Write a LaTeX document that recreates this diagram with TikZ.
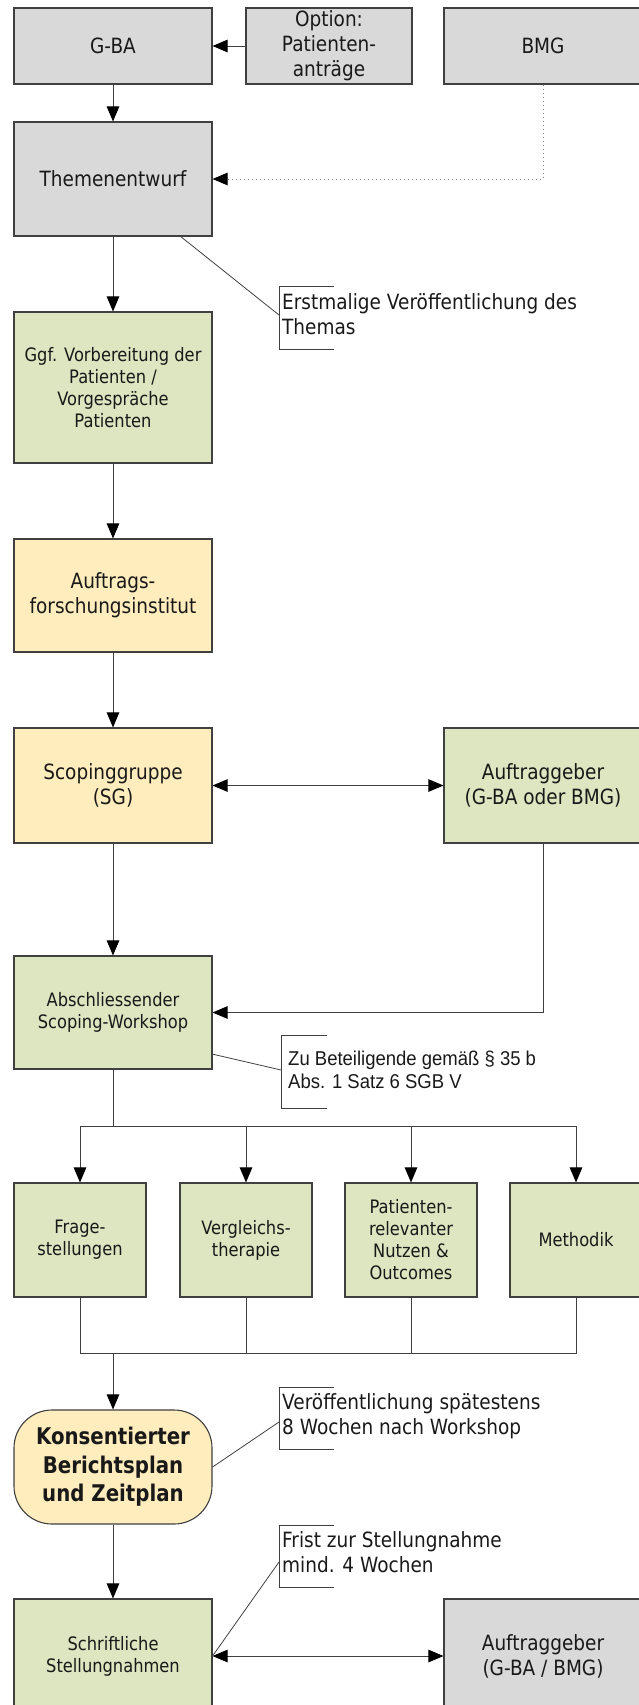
\documentclass[tikz,border=0pt]{standalone}
\usepackage{fontspec}
\setmainfont{DejaVu Sans}[FakeStretch=0.88]
\newfontfamily\konsfont{DejaVu Sans}[FakeStretch=0.86]
\newfontfamily\narrowfont{Liberation Sans}[FakeStretch=0.925]
\usetikzlibrary{arrows.meta}
\definecolor{boxgray}{HTML}{D9D9D9}
\definecolor{boxgreen}{HTML}{DDE5C1}
\definecolor{boxyellow}{HTML}{FFEDBD}
\definecolor{edgecol}{HTML}{404040}
\definecolor{dotcol}{HTML}{808080}
\begin{document}
\begin{tikzpicture}[x=1pt,y=-1pt,
  every node/.style={inner sep=0pt,text=black!90},
  box/.style={draw=edgecol,line width=1.1pt,minimum width=198pt,minimum height=114pt,align=center,font=\fontsize{21}{25}\selectfont},
  smalltext/.style={font=\fontsize{18.5}{22}\selectfont},
  fgray/.style={fill=boxgray},
  fgreen/.style={fill=boxgreen},
  fyellow/.style={fill=boxyellow},
  con/.style={draw=edgecol,line width=1pt,-{Triangle[length=15pt,width=12.5pt,color=black]}},
  biarr/.style={draw=edgecol,line width=1pt,{Triangle[length=15pt,width=12.5pt,color=black]}-{Triangle[length=15pt,width=12.5pt,color=black]}},
  plain/.style={draw=edgecol,line width=1pt},
  ann/.style={draw=edgecol,line width=0.8pt},
  anntext/.style={align=left,anchor=west,font=\fontsize{21}{25}\selectfont},
]
\useasboundingbox (0,0) rectangle (638,1705);

% top row
\node[box,fgray,minimum height=76pt] (gba) at (113,46) {G-BA};
\node[box,fgray,minimum height=76pt,minimum width=166pt] (opt) at (329,46) {Option:\\Patienten-\\anträge};
\node[box,fgray,minimum height=76pt] (bmg) at (543,46) {BMG};

\node[box,fgray] (them) at (113,179) {Themenentwurf};
\node[box,fgreen,minimum height=151pt,smalltext] (vorb) at (113,387.5) {Ggf. Vorbereitung der\\Patienten /\\Vorgespräche\\Patienten};
\node[box,fyellow,minimum height=113pt] (auft) at (113,595.5) {Auftrags-\\forschungsinstitut};
\node[box,fyellow,minimum height=115pt] (scop) at (113,785.5) {Scopinggruppe\\(SG)};
\node[box,fgreen,minimum height=115pt] (ag1) at (543,785.5) {Auftraggeber\\(G-BA oder BMG)};
\node[box,fgreen,minimum height=113pt,smalltext] (absch) at (113,1012.5) {Abschliessender\\Scoping-Workshop};

% four boxes
\node[box,fgreen,minimum width=132pt,smalltext] (f1) at (80,1240) {Frage-\\stellungen};
\node[box,fgreen,minimum width=132pt,smalltext] (f2) at (246,1240) {Vergleichs-\\therapie};
\node[box,fgreen,minimum width=132pt,smalltext] (f3) at (411,1240) {Patienten-\\relevanter\\Nutzen \&\\Outcomes};
\node[box,fgreen,minimum width=132pt,smalltext] (f4) at (576,1240) {Methodik};

\node[box,fyellow,rounded corners=38pt,font={\konsfont\bfseries\fontsize{23}{28.5}\selectfont}] (kons) at (113,1467) {Konsentierter\\Berichtsplan\\und Zeitplan};

\node[box,fgreen,smalltext] (schr) at (113,1656) {Schriftliche\\Stellungnahmen};
\node[box,fgray] (ag2) at (543,1656) {Auftraggeber\\(G-BA / BMG)};

% connectors
\draw[con] (opt.west) -- (gba.east);
\draw[con] (gba.south) -- (them.north);
\draw[con,draw=dotcol,dash pattern=on 1pt off 3pt] (bmg.south) |- (them.east);
\draw[con] (them.south) -- (vorb.north);
\draw[con] (vorb.south) -- (auft.north);
\draw[con] (auft.south) -- (scop.north);
\draw[biarr] (scop.east) -- (ag1.west);
\draw[con] (scop.south) -- (absch.north);
\draw[con] (ag1.south) |- (absch.east);

\coordinate (br) at (113,1126);
\draw[plain] (absch.south) -- (br);
\draw[con] (br) -| (f1.north);
\draw[con] (br) -| (f2.north);
\draw[con] (br) -| (f3.north);
\draw[con] (br) -| (f4.north);

\coordinate (mg) at (113,1353);
\draw[plain] (f1.south) |- (mg);
\draw[plain] (f2.south) |- (mg);
\draw[plain] (f3.south) |- (mg);
\draw[plain] (f4.south) |- (mg);
\draw[con] (mg) -- (kons.north);

\draw[con] (kons.south) -- (schr.north);
\draw[biarr] (schr.east) -- (ag2.west);

% annotations
\coordinate (a1) at (180,236);
\coordinate (b1) at (279,315);
\draw[ann] (a1) -- (b1);
\draw[ann] (334,286) -- (279,286) -- (279,349) -- (334,349);
\node[anntext] (n1) at (282,314.5) {Erstmalige Veröffentlichung des\\Themas};

\coordinate (a2) at (212,1054);
\coordinate (b2) at (281,1070);
\draw[ann] (a2) -- (b2);
\draw[ann] (327,1035) -- (281,1035) -- (281,1108) -- (327,1108);
\node[anntext,font={\narrowfont\fontsize{20}{23.3}\selectfont}] (n2) at (288,1069.5) {Zu Beteiligende gemäß § 35 b\\Abs. 1 Satz 6 SGB V};

\coordinate (b3) at (279,1422);
\draw[ann] (kons.east) -- (b3);
\draw[ann] (334,1387) -- (279,1387) -- (279,1449) -- (334,1449);
\node[anntext] (n3) at (282,1416) {Veröffentlichung spätestens\\8 Wochen nach Workshop};

\coordinate (b4) at (279,1562);
\draw[ann] (schr.east) -- (b4);
\draw[ann] (334,1525) -- (279,1525) -- (279,1587) -- (334,1587);
\node[anntext] (n4) at (282,1552.5) {Frist zur Stellungnahme\\mind. 4 Wochen};
\end{tikzpicture}
\end{document}
